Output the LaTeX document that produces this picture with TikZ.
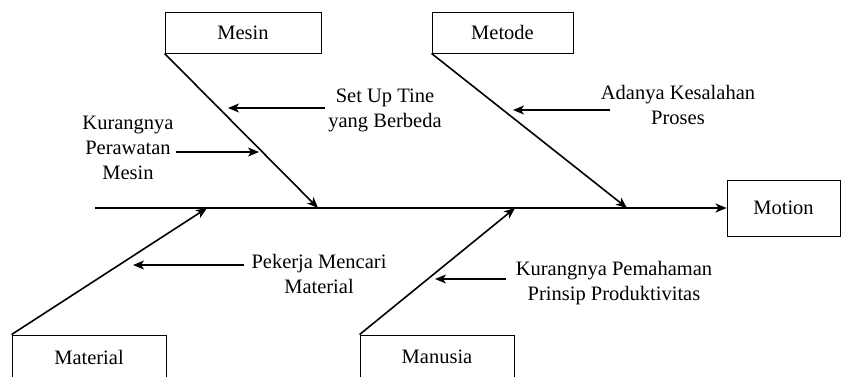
\documentclass[tikz,border=0pt]{standalone}
\usepackage{fontspec}
\setmainfont{Liberation Serif}
\usetikzlibrary{arrows.meta}
\begin{document}
\begin{tikzpicture}[x=1pt,y=-1pt,font=\fontsize{20.5}{25}\selectfont,
        kotak/.style={draw,line width=0.9pt,inner sep=0pt,minimum height=41pt},
        tulang/.style={line width=1.6pt,-{Stealth[length=11pt,width=9pt,inset=3pt]}},
        sebab/.style={align=center,inner sep=0pt}]
        \useasboundingbox (0,0) rectangle (842,376);

        \node[kotak,minimum width=156pt] (mesin) at (243,32.5) {Mesin};
        \node[kotak,minimum width=141pt] (metode) at (502.5,32.5) {Metode};
        \node[kotak,minimum width=113pt,minimum height=56pt] (motion) at (783.5,208) {Motion};
        \node[kotak,minimum width=154pt,minimum height=44pt] (material) at (89,357) {Material};
        \node[kotak,minimum width=154pt,minimum height=44pt] (manusia) at (437,357) {Manusia};

        \coordinate (ekor) at (95,208);
        \coordinate (tMesin) at (318,208);
        \coordinate (tMetode) at (627,208);
        \coordinate (tMaterial) at (207,208);
        \coordinate (tManusia) at (515,208);

        \draw[tulang] (ekor) -- (motion.west);
        \draw[tulang] (mesin.south west) -- (tMesin);
        \draw[tulang] (metode.south west) -- (tMetode);
        \draw[tulang] (material.north west) -- (tMaterial);
        \draw[tulang] (manusia.north west) -- (tManusia);

        \node[sebab] (setup) at (385,110) {Set Up Tine\\yang Berbeda};
        \node[sebab] (rawat) at (128,148) {Kurangnya\\Perawatan\\Mesin};
        \node[sebab] (salah) at (678,105) {Adanya Kesalahan\\Proses};
        \node[sebab] (cari) at (319,274) {Pekerja Mencari\\Material};
        \node[sebab] (paham) at (614,283) {Kurangnya Pemahaman\\Prinsip Produktivitas};

        \coordinate (aSetup) at (228,108);
        \coordinate (aRawat) at (259,152);
        \coordinate (aSalah) at (513,110);
        \coordinate (aCari) at (133,265);
        \coordinate (aPaham) at (435,279);

        \draw[tulang] (325,108) -- (aSetup);
        \draw[tulang] ([xshift=2pt]rawat.east |- aRawat) -- (aRawat);
        \draw[tulang] (610,110) -- (aSalah);
        \draw[tulang] ([xshift=-7pt]cari.west |- aCari) -- (aCari);
        \draw[tulang] ([xshift=-10pt]paham.west |- aPaham) -- (aPaham);
\end{tikzpicture}
\end{document}
